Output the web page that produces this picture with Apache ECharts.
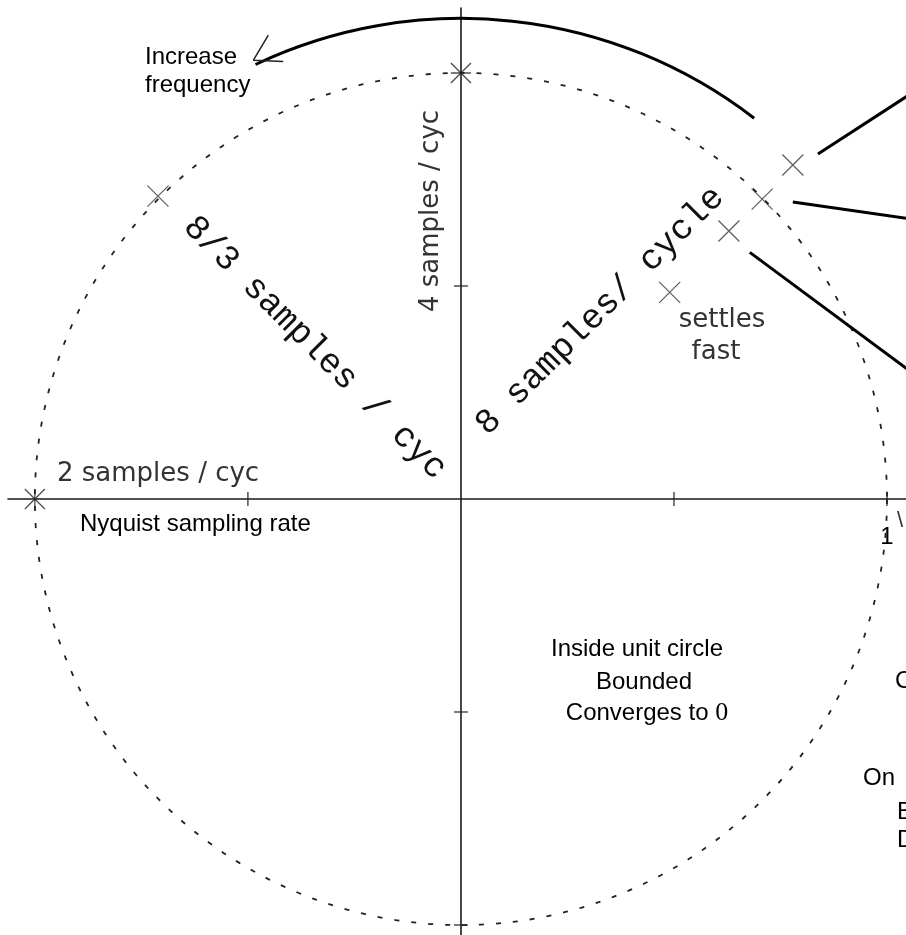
<!DOCTYPE html>
<html>
<head>
<meta charset="utf-8">
<script src="https://cdn.jsdelivr.net/npm/echarts@6/dist/echarts.min.js"></script>
<style>
  html, body { margin: 0; padding: 0; background: #fff; }
  #chart { width: 906px; height: 935px; }
</style>
</head>
<body>
<div id="chart"></div>
<script>
// z-plane values (unit circle radius = 1)
const xTicks = [-0.5, 0.5, 1];
const yTicks = [0.5, -0.5, -1];
const xTickLabels = ['1'];
const unitPoles = [[-1, 0], [0, 1]];            // the two * marks on the circle
const poles = [                                  // the x marks
  [-0.711, 0.711],
  [0.49, 0.485],
  [0.629, 0.629],
  [0.707, 0.704],
  [0.779, 0.784]
];
const rayA = [[0.838, 0.810], [1.1, 0.980]];
const rayB = [[0.779, 0.697], [1.1, 0.651]];
const rayC = [[0.678, 0.579], [1.1, 0.266]];
const arrowHead = [[-0.452, 1.089], [-0.487, 1.030], [-0.417, 1.027]];
const unitRadius = 1;
const sweepRadius = 1.128;
const sweepAngles = [52.4, 115.3];   // degrees, counter-clockwise from +x

const SANS = "'Liberation Sans', Arial, sans-serif";
const GREY_SANS = "'DejaVu Sans', sans-serif";
const MONO = "'Liberation Mono', 'Courier New', monospace";

const chart = echarts.init(document.getElementById('chart'));

function txt(text, x, y, opts) {
  opts = opts || {};
  return {
    type: 'text',
    x: x,
    y: y,
    rotation: opts.rotation || 0,
    silent: true,
    style: {
      text: text,
      fontSize: opts.size || 24,
      fontFamily: opts.family || SANS,
      fill: opts.color || '#000',
      align: opts.align || 'center',
      verticalAlign: 'middle',
      rich: opts.rich
    }
  };
}

const option = {
  backgroundColor: '#fff',
  animation: false,
  grid: { left: 8, right: 0, top: 8, bottom: 0, outerBoundsMode: 'none', containLabel: false },
  xAxis: {
    type: 'value',
    min: -1.063,
    max: 1.0446,
    splitLine: { show: false },
    axisTick: { show: false },
    axisLabel: { show: false },
    axisLine: { onZero: true, lineStyle: { color: '#1a1a1a', width: 1.6 } }
  },
  yAxis: {
    type: 'value',
    min: -1.0235,
    max: 1.1526,
    splitLine: { show: false },
    axisTick: { show: false },
    axisLabel: { show: false },
    axisLine: { onZero: true, lineStyle: { color: '#1a1a1a', width: 1.6 } }
  },
  series: [
    // dotted unit circle
    {
      type: 'custom',
      silent: true,
      data: [[0, 0]],
      renderItem(params, api) {
        const c = api.coord([0, 0]);
        const r = api.size([unitRadius, 0])[0];
        return {
          type: 'circle',
          shape: { cx: c[0], cy: c[1], r: r },
          style: { fill: 'none', stroke: '#222', lineWidth: 1.8, lineDash: [5, 12] }
        };
      }
    },
    // "increase frequency" sweep arc
    {
      type: 'custom',
      silent: true,
      data: [[0, 0]],
      renderItem(params, api) {
        const c = api.coord([0, 0]);
        const r = api.size([sweepRadius, 0])[0];
        return {
          type: 'arc',
          shape: {
            cx: c[0], cy: c[1], r: r,
            startAngle: -sweepAngles[1] * Math.PI / 180,
            endAngle: -sweepAngles[0] * Math.PI / 180,
            clockwise: true
          },
          style: { fill: 'none', stroke: '#000', lineWidth: 3 }
        };
      }
    },
    {
      type: 'line',
      data: arrowHead,
      symbol: 'none',
      silent: true,
      lineStyle: { color: '#222', width: 1.5 }
    },
    // thick pointer lines leaving to the right
    ...[rayA, rayB, rayC].map(d => ({
      type: 'line',
      data: d,
      symbol: 'none',
      silent: true,
      lineStyle: { color: '#000', width: 3 }
    })),
    // axis ticks crossing both sides
    {
      type: 'scatter',
      silent: true,
      data: xTicks.map(v => [v, 0]),
      symbol: 'rect',
      symbolSize: [1.5, 14],
      itemStyle: { color: '#222' }
    },
    {
      type: 'scatter',
      silent: true,
      data: yTicks.map(v => [0, v]),
      symbol: 'rect',
      symbolSize: [14, 1.5],
      itemStyle: { color: '#222' }
    },
    // poles
    {
      type: 'scatter',
      silent: true,
      data: poles,
      symbol: 'path://M0,0L20,20M20,0L0,20',
      symbolSize: 21,
      itemStyle: { color: 'rgba(0,0,0,0)', borderColor: '#333', borderWidth: 1.2 }
    },
    {
      type: 'scatter',
      silent: true,
      data: unitPoles,
      symbol: v => v[0] === 0
        ? 'path://M0,0L18,18M18,0L0,18M0,9L18,9'
        : 'path://M0,0L18,18M18,0L0,18M9,0L9,18',
      symbolSize: 20,
      itemStyle: { color: 'rgba(0,0,0,0)', borderColor: '#222', borderWidth: 1.3 }
    }
  ],
  graphic: {
    elements: [
      txt(xTickLabels[0], 887, 537),
      txt('Increase', 145, 57, { align: 'left' }),
      txt('frequency', 145, 85, { align: 'left' }),
      txt('2 samples / cyc', 57, 474, { align: 'left', family: GREY_SANS, size: 26, color: '#333' }),
      txt('Nyquist sampling rate', 80, 524, { align: 'left' }),
      txt('4 samples / cyc', 431, 211, { family: GREY_SANS, size: 26, color: '#333', rotation: Math.PI / 2 }),
      txt('settles', 722, 320, { family: GREY_SANS, size: 26, color: '#333' }),
      txt('fast', 716, 352, { family: GREY_SANS, size: 26, color: '#333' }),
      txt('8 samples/ cycle', 600, 311, { family: MONO, size: 35, color: '#111', rotation: Math.PI / 4 }),
      txt('8/3 samples / cyc', 315, 348, { family: MONO, size: 35, color: '#111', rotation: -Math.PI / 4 }),
      txt('Inside unit circle', 637, 649),
      txt('Bounded', 644, 682),
      txt('Converges to {z|0}', 647, 713, {
        rich: { z: { fontFamily: "'Liberation Serif', 'Times New Roman', serif", fontSize: 26 } }
      }),
      txt('\\', 900, 521, { size: 22, color: '#333' }),
      txt('C', 895, 681, { align: 'left' }),
      txt('On', 863, 778, { align: 'left' }),
      txt('B', 897, 812, { align: 'left' }),
      txt('D', 897, 840, { align: 'left' })
    ]
  }
};

chart.setOption(option);
</script>
</body>
</html>
